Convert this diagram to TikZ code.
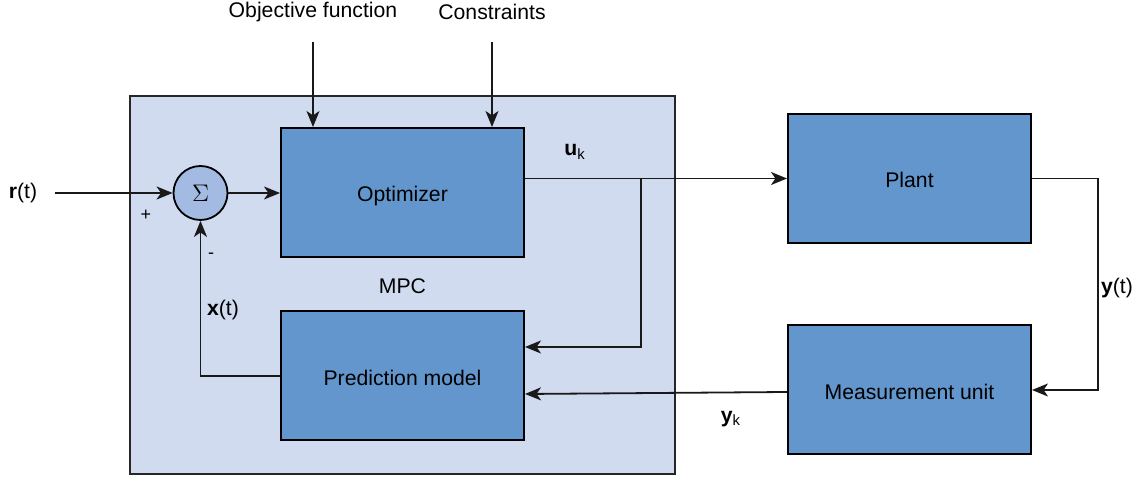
\documentclass[tikz,border=0pt]{standalone}
\usepackage{fontspec}
\setmainfont{Liberation Sans}
\usetikzlibrary{arrows.meta,calc}
\definecolor{boxblue}{HTML}{6396CC}
\definecolor{mpcbg}{HTML}{D0DBF0}
\definecolor{sumblue}{HTML}{A3BBE2}
\begin{document}
\begin{tikzpicture}[x=0.5pt,y=-0.5pt,
  every node/.style={font=\fontsize{10.6pt}{12pt}\selectfont},
  block/.style={draw=black,line width=1pt,fill=boxblue,minimum width=121.5pt,minimum height=64.5pt,inner sep=0pt,text height=9.2pt,text depth=0pt},
  container/.style={draw=black!85,line width=0.8pt,fill=mpcbg,minimum width=272.5pt,minimum height=189pt,inner sep=0pt,text height=8.6pt,text depth=0pt},
  sumnode/.style={circle,draw=black,line width=0.9pt,fill=sumblue,minimum size=27pt,inner sep=0pt},
  lbl/.style={inner sep=1pt},
  sgn/.style={inner sep=0pt,font=\fontsize{9pt}{10pt}\selectfont},
  arr/.style={draw=black!90,line width=0.9pt,-{Stealth[length=8pt,width=6.5pt,inset=2.2pt]}},
  ln/.style={draw=black!90,line width=0.9pt}]
\useasboundingbox (0,0) rectangle (1148,480);

% MPC frame
\node[container] (mpc) at (402.5,285) {MPC};

% blocks
\node[block] (opt)   at (402.5,192.5) {Optimizer};
\node[block] (pred)  at (402.5,376)   {Prediction model};
\node[block] (plant) at (909.5,178.5) {Plant};
\node[block] (meas)  at (909.5,390)   {Measurement unit};
\node[sumnode] (sum) at (200.5,193) {\fontsize{12.5pt}{12.5pt}\selectfont$\Sigma$};

% external inputs
\node[lbl] (objl) at (313,12) {Objective function};
\node[lbl] (conl) at (492,12) {Constraints};
\coordinate (objs) at (313,42);
\coordinate (cons) at (492,42);
\node[lbl] (rlab) at (23,193) {\textbf{r}(t)};
\coordinate (rin) at (55,193);

% signal labels
\node[sgn] (plus)  at (146,215) {+};
\node[sgn] (minus) at (211,256) {-};
\node[lbl] (xlab)  at (223,310) {\textbf{x}(t)};
\node[lbl] (uklab) at (575,152) {\textbf{u}\textsubscript{k}};
\node[lbl] (ylab)  at (1117,288) {\textbf{y}(t)};
\node[lbl] (yklab) at (731,419) {\textbf{y}\textsubscript{k}};

% connections
\draw[arr] (objs) -- (opt.north -| objs);
\draw[arr] (cons) -- (opt.north -| cons);
\draw[arr] (rin) -- (sum.west);
\draw[arr] (sum.east) -- (opt.west |- sum.east);
\draw[arr] (pred.west) -| (sum.south);
\draw[arr] (opt.east |- plant.west) -- (plant.west);
\coordinate (br) at (641,179);
\draw[arr] (br) |- ([yshift=14.5pt]pred.east);
\draw[arr] (plant.east) -- ++(66,0) |- (meas.east);
\draw[arr] ([yshift=-1pt]meas.west) -- ([yshift=-9pt]pred.east);
\end{tikzpicture}
\end{document}
